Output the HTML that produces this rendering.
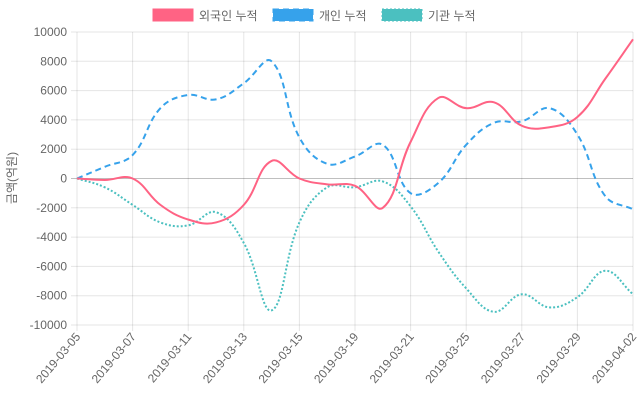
<!DOCTYPE html>
<html><head><meta charset="utf-8"><style>
body{margin:0;background:#fff;}
svg{display:block;font-family:"Liberation Sans","Noto Sans CJK KR",sans-serif;}
</style></head><body>
<svg id="s" width="640" height="400" xmlns="http://www.w3.org/2000/svg"></svg>
<script>
const s=document.getElementById('s');
const L=77,R=633,T=32,B=325;
const labels=['2019-03-05','2019-03-07','2019-03-11','2019-03-13','2019-03-15','2019-03-19','2019-03-21','2019-03-25','2019-03-27','2019-03-29','2019-04-02'];
const X=i=>L+(R-L)*i/20, Y=v=>T+(B-T)*(10-v)/20;
let h='';
for(let k=0;k<=10;k++){const v=10-2*k,y=Y(v);
 h+=`<line x1="${L-6}" x2="${R}" y1="${y}" y2="${y}" stroke="${v==0?'rgba(0,0,0,0.25)':'rgba(0,0,0,0.1)'}"/>`;
 h+=`<text x="${L-10}" y="${y+4}" text-anchor="end" font-size="12" fill="#666">${v*1000}</text>`;}
for(let k=0;k<=10;k++){const x=X(2*k);
 h+=`<line x1="${x}" x2="${x}" y1="${T}" y2="${B+6}" stroke="rgba(0,0,0,0.1)"/>`;
 h+=`<text transform="translate(${x+4},${B+12}) rotate(-50)" text-anchor="end" font-size="12" fill="#666">${labels[k]}</text>`;}
h+=`<text transform="translate(16,178) rotate(-90)" text-anchor="middle" font-size="12" fill="#666">금액(억원)</text>`;
function path(d){const p=d.map((v,i)=>[X(i),Y(v)]);const t=0.4;let str=`M${p[0][0]},${p[0][1]}`;
 const cp=[];for(let i=0;i<p.length;i++){const a=p[i-1]||p[i],c=p[i],n=p[i+1]||p[i];
  const d01=Math.hypot(c[0]-a[0],c[1]-a[1]),d12=Math.hypot(n[0]-c[0],n[1]-c[1]);
  let fa=d01/(d01+d12)||0,fb=d12/(d01+d12)||0;fa*=t;fb*=t;
  cp.push([[c[0]-fa*(n[0]-a[0]),c[1]-fa*(n[1]-a[1])],[c[0]+fb*(n[0]-a[0]),c[1]+fb*(n[1]-a[1])]]);}
 for(let i=1;i<p.length;i++){str+=` C${cp[i-1][1][0]},${cp[i-1][1][1]} ${cp[i][0][0]},${cp[i][0][1]} ${p[i][0]},${p[i][1]}`;}
 return str;}
const red=[0,-0.1,0,-1.8,-2.8,-3,-1.8,1.2,0,-0.4,-0.5,-2,2.5,5.5,4.8,5.2,3.6,3.5,4.2,6.8,9.5];
const blue=[0,0.8,1.6,4.8,5.7,5.4,6.5,8,2.8,1,1.5,2.3,-1,-0.3,2.3,3.8,3.9,4.8,3,-1.2,-2.1];
const teal=[0,-0.6,-1.8,-3,-3.2,-2.3,-4.4,-9,-3,-0.6,-0.6,-0.2,-1.9,-5,-7.5,-9.1,-7.9,-8.8,-8.1,-6.3,-7.9];
h+=`<path d="${path(teal)}" fill="none" stroke="rgb(75,192,192)" stroke-width="2" stroke-dasharray="2,2"/>`;
h+=`<path d="${path(blue)}" fill="none" stroke="rgb(54,162,235)" stroke-width="2" stroke-dasharray="6,4"/>`;
h+=`<path d="${path(red)}" fill="none" stroke="rgb(255,99,132)" stroke-width="2"/>`;
h+=`<rect x="153" y="9" width="40" height="12" fill="rgb(255,99,132)" stroke="rgb(255,99,132)"/>`;
h+=`<text x="199" y="20" font-size="12" fill="#666">외국인 누적</text>`;
h+=`<rect x="273" y="9" width="40" height="12" fill="rgb(54,162,235)" stroke="rgb(54,162,235)" stroke-dasharray="6,4"/>`;
h+=`<text x="319" y="20" font-size="12" fill="#666">개인 누적</text>`;
h+=`<rect x="382" y="9" width="40" height="12" fill="rgb(75,192,192)" stroke="rgb(75,192,192)" stroke-dasharray="2,2"/>`;
h+=`<text x="428" y="20" font-size="12" fill="#666">기관 누적</text>`;
s.innerHTML=h;
</script>
</body></html>
